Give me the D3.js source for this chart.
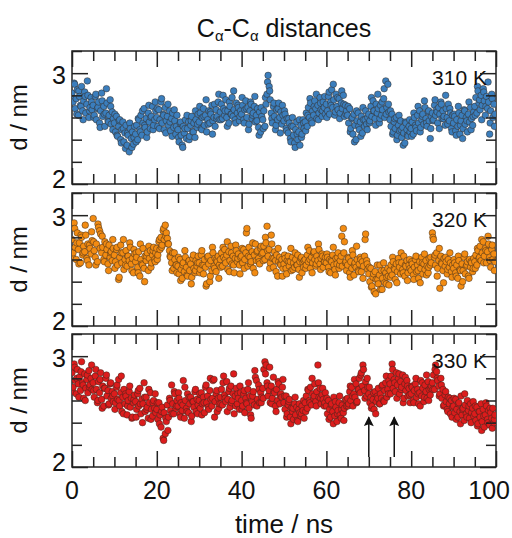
<!DOCTYPE html>
<html>
<head>
<meta charset="utf-8">
<script src="https://cdn.jsdelivr.net/npm/d3@7"></script>
<style>
  body { margin: 0; background: #fff; }
  svg { display: block; font-family: "Liberation Sans", Arial, sans-serif; }
</style>
</head>
<body>
<div id="chart"></div>
<script>
// first run sampled every 0.25 ns (0 .. 99.75),
// second run sampled every 0.5 ns starting at 0.125
const STEP_A = 0.25;
const STEP_B = 0.5, OFFSET_B = 0.125;

const d310 = [
  2.82, 2.74, 2.91, 2.68, 2.77, 2.85, 2.62, 2.79, 2.71, 2.88, 2.66, 2.75, 2.83, 2.64, 2.72, 2.80, 2.60, 2.69, 2.78, 2.67,
  2.71, 2.62, 2.79, 2.58, 2.68, 2.74, 2.55, 2.66, 2.82, 2.61, 2.70, 2.52, 2.64, 2.73, 2.57, 2.62, 2.76, 2.54, 2.65, 2.59,
  2.55, 2.47, 2.61, 2.43, 2.52, 2.58, 2.40, 2.49, 2.56, 2.38, 2.46, 2.53, 2.35, 2.44, 2.29, 2.50, 2.41, 2.47, 2.36, 2.52,
  2.45, 2.53, 2.40, 2.58, 2.49, 2.62, 2.44, 2.55, 2.68, 2.51, 2.59, 2.47, 2.64, 2.56, 2.50, 2.61, 2.70, 2.53, 2.58, 2.66,
  2.60, 2.52, 2.67, 2.58, 2.74, 2.55, 2.63, 2.49, 2.69, 2.57, 2.61, 2.53, 2.66, 2.48, 2.59, 2.64, 2.51, 2.57, 2.45, 2.62,
  2.49, 2.38, 2.55, 2.44, 2.35, 2.52, 2.46, 2.58, 2.41, 2.50, 2.56, 2.43, 2.53, 2.61, 2.47, 2.55, 2.42, 2.58, 2.51, 2.63,
  2.56, 2.64, 2.50, 2.60, 2.68, 2.53, 2.62, 2.47, 2.58, 2.66, 2.55, 2.63, 2.71, 2.57, 2.60, 2.52, 2.67, 2.61, 2.74, 2.58,
  2.65, 2.72, 2.59, 2.68, 2.62, 2.76, 2.60, 2.66, 2.55, 2.70, 2.63, 2.78, 2.61, 2.67, 2.58, 2.73, 2.64, 2.69, 2.57, 2.66,
  2.63, 2.71, 2.58, 2.67, 2.75, 2.60, 2.69, 2.54, 2.66, 2.72, 2.59, 2.64, 2.70, 2.56, 2.62, 2.68, 2.51, 2.65, 2.47, 2.61,
  2.58, 2.66, 2.52, 2.72, 2.81, 2.98, 2.88, 2.76, 2.64, 2.55, 2.70, 2.61, 2.49, 2.67, 2.58, 2.73, 2.60, 2.65, 2.54, 2.62,
  2.57, 2.63, 2.50, 2.59, 2.46, 2.55, 2.41, 2.52, 2.60, 2.44, 2.37, 2.49, 2.56, 2.40, 2.47, 2.35, 2.53, 2.45, 2.58, 2.50,
  2.56, 2.64, 2.52, 2.69, 2.60, 2.73, 2.57, 2.66, 2.62, 2.75, 2.68, 2.59, 2.71, 2.64, 2.78, 2.67, 2.61, 2.74, 2.69, 2.63,
  2.72, 2.66, 2.79, 2.63, 2.74, 2.85, 2.69, 2.76, 2.62, 2.81, 2.70, 2.67, 2.77, 2.64, 2.73, 2.68, 2.80, 2.61, 2.71, 2.66,
  2.62, 2.55, 2.68, 2.50, 2.59, 2.45, 2.63, 2.53, 2.40, 2.57, 2.64, 2.49, 2.56, 2.61, 2.46, 2.58, 2.52, 2.66, 2.54, 2.60,
  2.63, 2.57, 2.70, 2.61, 2.75, 2.66, 2.59, 2.72, 2.64, 2.68, 2.55, 2.71, 2.62, 2.67, 2.77, 2.60, 2.93, 2.69, 2.90, 2.65,
  2.58, 2.52, 2.63, 2.47, 2.56, 2.50, 2.60, 2.44, 2.53, 2.48, 2.57, 2.42, 2.51, 2.46, 2.37, 2.55, 2.49, 2.43, 2.52, 2.47,
  2.50, 2.56, 2.45, 2.60, 2.53, 2.48, 2.62, 2.55, 2.66, 2.51, 2.58, 2.63, 2.54, 2.69, 2.59, 2.52, 2.65, 2.57, 2.41, 2.61,
  2.64, 2.58, 2.71, 2.62, 2.67, 2.55, 2.69, 2.63, 2.74, 2.59, 2.66, 2.61, 2.53, 2.68, 2.60, 2.72, 2.57, 2.64, 2.50, 2.62,
  2.55, 2.61, 2.48, 2.58, 2.52, 2.64, 2.45, 2.57, 2.62, 2.50, 2.67, 2.54, 2.60, 2.47, 2.63, 2.56, 2.69, 2.59, 2.53, 2.65,
  2.70, 2.78, 2.64, 2.84, 2.73, 2.67, 2.80, 2.71, 2.86, 2.75, 2.62, 2.79, 2.68, 2.74, 2.45, 2.66, 2.81, 2.60, 2.72, 2.63
];
const d310b = [
  2.76, 2.90, 2.63, 2.84, 2.70, 2.58, 2.79, 2.93, 2.66, 2.74,
  2.60, 2.81, 2.69, 2.51, 2.75, 2.63, 2.86, 2.56, 2.70, 2.49,
  2.63, 2.44, 2.57, 2.37, 2.50, 2.32, 2.46, 2.55, 2.33, 2.42,
  2.38, 2.59, 2.47, 2.66, 2.53, 2.42, 2.71, 2.60, 2.49, 2.74,
  2.68, 2.50, 2.77, 2.62, 2.46, 2.72, 2.56, 2.43, 2.67, 2.52,
  2.42, 2.56, 2.33, 2.50, 2.62, 2.40, 2.57, 2.47, 2.66, 2.54,
  2.70, 2.49, 2.61, 2.76, 2.54, 2.65, 2.45, 2.72, 2.59, 2.81,
  2.58, 2.80, 2.66, 2.52, 2.74, 2.63, 2.84, 2.55, 2.71, 2.61,
  2.78, 2.55, 2.68, 2.49, 2.74, 2.62, 2.79, 2.57, 2.44, 2.69,
  2.50, 2.78, 2.92, 2.84, 2.59, 2.73, 2.53, 2.68, 2.46, 2.71,
  2.66, 2.48, 2.59, 2.38, 2.52, 2.33, 2.45, 2.58, 2.42, 2.55,
  2.48, 2.62, 2.77, 2.55, 2.70, 2.81, 2.58, 2.73, 2.66, 2.79,
  2.60, 2.83, 2.71, 2.90, 2.65, 2.78, 2.59, 2.84, 2.72, 2.63,
  2.70, 2.47, 2.60, 2.38, 2.66, 2.52, 2.43, 2.69, 2.58, 2.49,
  2.55, 2.78, 2.66, 2.53, 2.81, 2.59, 2.74, 2.86, 2.63, 2.72,
  2.66, 2.45, 2.59, 2.40, 2.62, 2.49, 2.35, 2.56, 2.44, 2.58,
  2.43, 2.64, 2.51, 2.70, 2.47, 2.61, 2.75, 2.55, 2.66, 2.50,
  2.57, 2.76, 2.65, 2.50, 2.72, 2.59, 2.80, 2.54, 2.68, 2.47,
  2.63, 2.44, 2.70, 2.53, 2.41, 2.66, 2.57, 2.74, 2.49, 2.61,
  2.62, 2.88, 2.76, 2.58, 2.83, 2.70, 2.92, 2.55, 2.77, 2.52
];

const d320 = [
  2.78, 2.66, 2.93, 2.71, 2.60, 2.84, 2.69, 2.75, 2.57, 2.80, 2.64, 2.72, 2.67, 2.82, 2.61, 2.74, 2.55, 2.70, 2.65, 2.77,
  2.97, 2.68, 2.62, 2.74, 2.58, 2.89, 2.86, 2.83, 2.66, 2.71, 2.60, 2.76, 2.64, 2.69, 2.56, 2.73, 2.62, 2.67, 2.59, 2.70,
  2.64, 2.58, 2.69, 2.55, 2.42, 2.62, 2.73, 2.57, 2.66, 2.51, 2.60, 2.68, 2.54, 2.63, 2.59, 2.71, 2.56, 2.61, 2.48, 2.65,
  2.58, 2.62, 2.53, 2.67, 2.45, 2.60, 2.56, 2.70, 2.52, 2.63, 2.59, 2.66, 2.50, 2.61, 2.68, 2.57, 2.64, 2.71, 2.60, 2.66,
  2.70, 2.64, 2.76, 2.69, 2.80, 2.73, 2.86, 2.78, 2.91, 2.84, 2.79, 2.74, 2.68, 2.62, 2.57, 2.66, 2.52, 2.60, 2.55, 2.48,
  2.54, 2.47, 2.60, 2.51, 2.43, 2.57, 2.49, 2.62, 2.53, 2.45, 2.58, 2.50, 2.56, 2.44, 2.61, 2.52, 2.48, 2.59, 2.54, 2.63,
  2.57, 2.51, 2.64, 2.55, 2.47, 2.60, 2.53, 2.38, 2.62, 2.56, 2.40, 2.59, 2.50, 2.66, 2.54, 2.61, 2.49, 2.58, 2.63, 2.55,
  2.60, 2.66, 2.54, 2.62, 2.69, 2.57, 2.64, 2.51, 2.67, 2.59, 2.72, 2.56, 2.63, 2.48, 2.61, 2.68, 2.58, 2.65, 2.55, 2.62,
  2.63, 2.57, 2.69, 2.60, 2.66, 2.88, 2.54, 2.71, 2.62, 2.58, 2.67, 2.52, 2.64, 2.74, 2.59, 2.68, 2.61, 2.56, 2.70, 2.65,
  2.66, 2.72, 2.60, 2.75, 2.90, 2.63, 2.69, 2.57, 2.82, 2.61, 2.53, 2.67, 2.59, 2.64, 2.45, 2.58, 2.62, 2.55, 2.60, 2.52,
  2.56, 2.61, 2.52, 2.59, 2.63, 2.54, 2.58, 2.50, 2.62, 2.57, 2.53, 2.60, 2.55, 2.64, 2.51, 2.58, 2.61, 2.48, 2.57, 2.59,
  2.60, 2.55, 2.64, 2.58, 2.68, 2.52, 2.62, 2.57, 2.66, 2.60, 2.54, 2.63, 2.59, 2.69, 2.56, 2.61, 2.65, 2.53, 2.58, 2.62,
  2.57, 2.62, 2.53, 2.60, 2.48, 2.58, 2.64, 2.55, 2.51, 2.61, 2.56, 2.66, 2.52, 2.59, 2.63, 2.54, 2.88, 2.76, 2.57, 2.50,
  2.55, 2.61, 2.48, 2.58, 2.52, 2.64, 2.46, 2.57, 2.53, 2.60, 2.50, 2.56, 2.62, 2.49, 2.58, 2.54, 2.63, 2.83, 2.59, 2.51,
  2.47, 2.40, 2.52, 2.36, 2.44, 2.31, 2.49, 2.42, 2.55, 2.38, 2.46, 2.33, 2.50, 2.43, 2.57, 2.39, 2.48, 2.44, 2.52, 2.37,
  2.50, 2.55, 2.46, 2.58, 2.52, 2.42, 2.56, 2.49, 2.61, 2.53, 2.47, 2.57, 2.51, 2.63, 2.45, 2.54, 2.59, 2.48, 2.55, 2.52,
  2.50, 2.56, 2.46, 2.53, 2.60, 2.49, 2.55, 2.43, 2.58, 2.52, 2.62, 2.47, 2.56, 2.51, 2.59, 2.54, 2.48, 2.61, 2.55, 2.57,
  2.84, 2.78, 2.62, 2.55, 2.66, 2.52, 2.59, 2.34, 2.63, 2.56, 2.50, 2.61, 2.54, 2.58, 2.47, 2.60, 2.53, 2.57, 2.49, 2.55,
  2.52, 2.57, 2.48, 2.55, 2.43, 2.59, 2.51, 2.36, 2.56, 2.50, 2.62, 2.47, 2.54, 2.58, 2.45, 2.60, 2.53, 2.57, 2.49, 2.61,
  2.58, 2.64, 2.55, 2.68, 2.61, 2.72, 2.59, 2.66, 2.76, 2.63, 2.70, 2.57, 2.67, 2.74, 2.62, 2.53, 2.69, 2.60, 2.65, 2.58
];
const d320b = [
  2.62, 2.88, 2.75, 2.56, 2.82, 2.66, 2.91, 2.59, 2.73, 2.85,
  2.76, 2.55, 2.92, 2.70, 2.81, 2.58, 2.74, 2.50, 2.66, 2.78,
  2.52, 2.71, 2.44, 2.66, 2.78, 2.55, 2.63, 2.75, 2.50, 2.69,
  2.66, 2.48, 2.74, 2.55, 2.40, 2.63, 2.72, 2.53, 2.68, 2.58,
  2.60, 2.78, 2.71, 2.88, 2.81, 2.74, 2.63, 2.50, 2.66, 2.55,
  2.62, 2.41, 2.55, 2.68, 2.46, 2.59, 2.38, 2.64, 2.50, 2.57,
  2.48, 2.68, 2.55, 2.36, 2.63, 2.45, 2.71, 2.52, 2.60, 2.43,
  2.53, 2.71, 2.60, 2.76, 2.49, 2.66, 2.55, 2.73, 2.61, 2.47,
  2.70, 2.52, 2.84, 2.63, 2.56, 2.75, 2.48, 2.67, 2.58, 2.72,
  2.59, 2.80, 2.68, 2.52, 2.74, 2.61, 2.49, 2.70, 2.56, 2.45,
  2.64, 2.47, 2.58, 2.70, 2.51, 2.66, 2.55, 2.44, 2.62, 2.53,
  2.52, 2.71, 2.60, 2.48, 2.67, 2.56, 2.74, 2.51, 2.63, 2.58,
  2.65, 2.49, 2.59, 2.71, 2.46, 2.62, 2.55, 2.81, 2.66, 2.58,
  2.62, 2.44, 2.68, 2.55, 2.72, 2.49, 2.60, 2.43, 2.78, 2.56,
  2.53, 2.35, 2.47, 2.29, 2.42, 2.55, 2.33, 2.50, 2.38, 2.45,
  2.44, 2.62, 2.51, 2.39, 2.57, 2.66, 2.48, 2.55, 2.41, 2.60,
  2.58, 2.42, 2.63, 2.50, 2.39, 2.57, 2.65, 2.46, 2.53, 2.62,
  2.80, 2.64, 2.45, 2.70, 2.57, 2.39, 2.62, 2.51, 2.66, 2.44,
  2.60, 2.45, 2.63, 2.50, 2.40, 2.65, 2.55, 2.43, 2.58, 2.52,
  2.52, 2.70, 2.62, 2.78, 2.57, 2.68, 2.81, 2.59, 2.73, 2.50
];

const d330 = [
  2.85, 2.72, 2.93, 2.78, 2.66, 2.88, 2.75, 2.81, 2.69, 2.95, 2.76, 2.62, 2.84, 2.71, 2.79, 2.67, 2.87, 2.74, 2.80, 2.70,
  2.76, 2.63, 2.82, 2.70, 2.58, 2.77, 2.67, 2.85, 2.61, 2.73, 2.55, 2.71, 2.80, 2.64, 2.69, 2.57, 2.75, 2.62, 2.68, 2.59,
  2.66, 2.58, 2.72, 2.61, 2.79, 2.55, 2.67, 2.50, 2.63, 2.70, 2.57, 2.64, 2.47, 2.60, 2.68, 2.54, 2.62, 2.45, 2.58, 2.65,
  2.59, 2.52, 2.66, 2.55, 2.71, 2.48, 2.61, 2.57, 2.76, 2.50, 2.63, 2.54, 2.44, 2.58, 2.67, 2.52, 2.46, 2.60, 2.53, 2.49,
  2.52, 2.43, 2.58, 2.47, 2.36, 2.54, 2.26, 2.49, 2.30, 2.41, 2.56, 2.45, 2.62, 2.51, 2.74, 2.57, 2.48, 2.66, 2.53, 2.60,
  2.55, 2.62, 2.48, 2.58, 2.51, 2.78, 2.44, 2.60, 2.53, 2.66, 2.49, 2.57, 2.63, 2.46, 2.59, 2.54, 2.68, 2.50, 2.61, 2.56,
  2.60, 2.53, 2.67, 2.57, 2.63, 2.49, 2.72, 2.58, 2.64, 2.52, 2.69, 2.61, 2.55, 2.78, 2.79, 2.59, 2.66, 2.50, 2.62, 2.57,
  2.63, 2.70, 2.56, 2.82, 2.65, 2.59, 2.77, 2.61, 2.68, 2.54, 2.73, 2.60, 2.66, 2.48, 2.64, 2.71, 2.57, 2.62, 2.52, 2.67,
  2.60, 2.55, 2.66, 2.49, 2.62, 2.57, 2.70, 2.53, 2.64, 2.44, 2.59, 2.68, 2.56, 2.81, 2.78, 2.61, 2.74, 2.58, 2.67, 2.63,
  2.71, 2.88, 2.95, 2.92, 2.76, 2.64, 2.69, 2.58, 2.73, 2.62, 2.81, 2.67, 2.55, 2.70, 2.60, 2.75, 2.57, 2.66, 2.63, 2.79,
  2.58, 2.52, 2.64, 2.48, 2.56, 2.61, 2.45, 2.53, 2.50, 2.43, 2.57, 2.47, 2.54, 2.41, 2.52, 2.49, 2.46, 2.55, 2.51, 2.44,
  2.58, 2.64, 2.53, 2.69, 2.60, 2.72, 2.56, 2.66, 2.62, 2.75, 2.59, 2.68, 2.92, 2.63, 2.71, 2.57, 2.65, 2.61, 2.55, 2.67,
  2.55, 2.48, 2.60, 2.52, 2.45, 2.57, 2.50, 2.63, 2.46, 2.54, 2.41, 2.51, 2.58, 2.47, 2.44, 2.56, 2.49, 2.53, 2.60, 2.55,
  2.62, 2.57, 2.68, 2.60, 2.72, 2.55, 2.66, 2.63, 2.75, 2.59, 2.70, 2.80, 2.67, 2.85, 2.73, 2.88, 2.69, 2.77, 2.64, 2.72,
  2.66, 2.58, 2.63, 2.55, 2.61, 2.52, 2.68, 2.59, 2.64, 2.71, 2.57, 2.66, 2.62, 2.74, 2.60, 2.69, 2.76, 2.63, 2.70, 2.78,
  2.75, 2.82, 2.93, 2.71, 2.79, 2.68, 2.85, 2.74, 2.80, 2.66, 2.77, 2.72, 2.83, 2.62, 2.75, 2.69, 2.78, 2.64, 2.71, 2.58,
  2.66, 2.72, 2.60, 2.69, 2.75, 2.63, 2.70, 2.57, 2.67, 2.78, 2.64, 2.71, 2.59, 2.74, 2.68, 2.62, 2.77, 2.70, 2.65, 2.73,
  2.76, 2.83, 2.70, 2.92, 2.86, 2.78, 2.73, 2.66, 2.80, 2.62, 2.70, 2.56, 2.65, 2.59, 2.52, 2.63, 2.57, 2.48, 2.60, 2.54,
  2.55, 2.49, 2.61, 2.52, 2.45, 2.58, 2.50, 2.64, 2.47, 2.53, 2.42, 2.56, 2.48, 2.60, 2.51, 2.44, 2.57, 2.49, 2.53, 2.46,
  2.48, 2.42, 2.54, 2.39, 2.50, 2.45, 2.57, 2.41, 2.52, 2.36, 2.47, 2.55, 2.43, 2.51, 2.38, 2.49, 2.44, 2.53, 2.40, 2.47
];
const d330b = [
  2.68, 2.90, 2.80, 2.63, 2.86, 2.74, 2.60, 2.83, 2.72, 2.92,
  2.69, 2.88, 2.60, 2.79, 2.53, 2.71, 2.83, 2.56, 2.76, 2.64,
  2.52, 2.74, 2.60, 2.82, 2.48, 2.66, 2.55, 2.73, 2.44, 2.61,
  2.45, 2.69, 2.57, 2.40, 2.63, 2.52, 2.70, 2.43, 2.58, 2.66,
  2.58, 2.39, 2.50, 2.24, 2.44, 2.33, 2.60, 2.48, 2.68, 2.55,
  2.67, 2.45, 2.56, 2.72, 2.50, 2.63, 2.41, 2.59, 2.70, 2.48,
  2.66, 2.47, 2.58, 2.74, 2.54, 2.80, 2.62, 2.45, 2.69, 2.53,
  2.57, 2.76, 2.62, 2.50, 2.71, 2.58, 2.84, 2.55, 2.66, 2.73,
  2.52, 2.69, 2.58, 2.76, 2.47, 2.64, 2.87, 2.55, 2.70, 2.58,
  2.62, 2.84, 2.73, 2.90, 2.57, 2.68, 2.50, 2.77, 2.64, 2.72,
  2.64, 2.45, 2.59, 2.39, 2.53, 2.63, 2.42, 2.57, 2.48, 2.60,
  2.50, 2.70, 2.58, 2.80, 2.64, 2.55, 2.76, 2.62, 2.71, 2.58,
  2.62, 2.43, 2.56, 2.39, 2.59, 2.48, 2.64, 2.52, 2.42, 2.61,
  2.55, 2.73, 2.64, 2.79, 2.58, 2.70, 2.83, 2.92, 2.62, 2.80,
  2.72, 2.53, 2.67, 2.48, 2.62, 2.57, 2.73, 2.59, 2.82, 2.66,
  2.66, 2.88, 2.76, 2.62, 2.84, 2.70, 2.58, 2.81, 2.73, 2.65,
  2.73, 2.58, 2.80, 2.66, 2.55, 2.76, 2.63, 2.83, 2.60, 2.71,
  2.70, 2.88, 2.80, 2.64, 2.74, 2.55, 2.68, 2.50, 2.62, 2.45,
  2.62, 2.43, 2.57, 2.39, 2.52, 2.66, 2.45, 2.55, 2.40, 2.59,
  2.55, 2.37, 2.50, 2.33, 2.46, 2.58, 2.40, 2.53, 2.35, 2.43
];

const panelLabels = ["310 K", "320 K", "330 K"];
const panelColors = ["#3b7ebd", "#f28b12", "#dc1c1c"];
const panelRunsA = [d310, d320, d330];
const panelRunsB = [d310b, d320b, d330b];

// arrows in the 330 K panel
const arrowTimes = [70, 76];
const arrowFrom = 2.09;
const arrowTo = 2.45;

const xTickLabels = [0, 20, 40, 60, 80, 100];
const yTickLabels = [2, 3];

const WIDTH = 512, HEIGHT = 538;
const LEFT = 72, RIGHT = 496;
const PANEL_TOPS = [51, 193, 334];
const PANEL_H = 133;

const svg = d3.select("#chart").append("svg")
    .attr("width", WIDTH)
    .attr("height", HEIGHT);

svg.append("defs").append("marker")
    .attr("id", "arrowhead")
    .attr("viewBox", "0 0 10 10")
    .attr("refX", 9).attr("refY", 5)
    .attr("markerWidth", 11).attr("markerHeight", 10)
    .attr("markerUnits", "userSpaceOnUse")
    .attr("orient", "auto")
    .append("path")
    .attr("d", "M0,0 L10,5 L0,10 L2,5 z")
    .attr("fill", "#111");

const x = d3.scaleLinear().domain([0, 100]).range([LEFT, RIGHT]);

// title with subscript alphas
const title = svg.append("text")
    .attr("x", 284).attr("y", 37)
    .attr("text-anchor", "middle")
    .attr("font-size", 25)
    .attr("fill", "#111");
title.append("tspan").text("C");
title.append("tspan").attr("font-size", 15).attr("dy", 4).text("α");
title.append("tspan").attr("dy", -4).text("-C");
title.append("tspan").attr("font-size", 15).attr("dy", 4).text("α");
title.append("tspan").attr("dy", -4).text(" distances");

const minorX = d3.range(0, 101, 5);
const minorY = d3.range(2, 3.21, 0.2);

panelRunsA.forEach((runA, i) => {
    const top = PANEL_TOPS[i];
    const bottom = top + PANEL_H;
    const y = d3.scaleLinear().domain([2, 3.2]).range([bottom, top]);
    const g = svg.append("g").attr("class", "panel");

    const points = runA.map((d, k) => ({t: k * STEP_A, d}))
        .concat(panelRunsB[i].map((d, k) => ({t: OFFSET_B + k * STEP_B, d})))
        .sort((a, b) => a.t - b.t);

    g.append("rect")
        .attr("x", LEFT).attr("y", top)
        .attr("width", RIGHT - LEFT).attr("height", PANEL_H)
        .attr("fill", "none")
        .attr("stroke", "#222")
        .attr("stroke-width", 1.5);

    const clipId = "clip" + i;
    svg.append("clipPath").attr("id", clipId)
        .append("rect")
        .attr("x", LEFT).attr("y", top)
        .attr("width", RIGHT - LEFT).attr("height", PANEL_H);

    g.append("g")
        .attr("clip-path", "url(#" + clipId + ")")
        .selectAll("circle")
        .data(points)
        .join("circle")
        .attr("cx", p => x(p.t))
        .attr("cy", p => y(p.d))
        .attr("r", 3.3)
        .attr("fill", panelColors[i])
        .attr("stroke", "#33261c")
        .attr("stroke-opacity", 0.8)
        .attr("stroke-width", 0.6);

    g.append("text")
        .attr("x", 487).attr("y", top + 34)
        .attr("text-anchor", "end")
        .attr("font-size", 21)
        .attr("fill", "#111")
        .text(panelLabels[i]);

    // ticks on all four sides, pointing inward
    const isMajorX = v => v % 20 === 0;
    const isMajorY = v => Math.abs(v - Math.round(v)) < 1e-6;
    const axisTop = d3.axisBottom(x).tickValues(minorX).tickSizeInner(0).tickSizeOuter(0).tickFormat("");
    const axisBot = d3.axisTop(x).tickValues(minorX).tickSizeInner(0).tickSizeOuter(0).tickFormat("");
    const axisL = d3.axisRight(y).tickValues(minorY).tickSizeInner(0).tickSizeOuter(0).tickFormat("");
    const axisR = d3.axisLeft(y).tickValues(minorY).tickSizeInner(0).tickSizeOuter(0).tickFormat("");

    const gt = g.append("g").attr("transform", `translate(0,${top})`).call(axisTop);
    gt.selectAll(".tick line").attr("y2", v => isMajorX(v) ? 16 : 10);
    const gb = g.append("g").attr("transform", `translate(0,${bottom})`).call(axisBot);
    gb.selectAll(".tick line").attr("y2", v => isMajorX(v) ? -16 : -10);
    const gl = g.append("g").attr("transform", `translate(${LEFT},0)`).call(axisL);
    gl.selectAll(".tick line").attr("x2", v => isMajorY(v) ? 16 : 10);
    const gr = g.append("g").attr("transform", `translate(${RIGHT},0)`).call(axisR);
    gr.selectAll(".tick line").attr("x2", v => isMajorY(v) ? -16 : -10);
    g.selectAll(".domain").remove();
    g.selectAll(".tick line").attr("stroke", "#222").attr("stroke-width", 1.5);

    g.selectAll("text.ylab")
        .data(yTickLabels)
        .join("text")
        .attr("class", "ylab")
        .attr("x", 66)
        .attr("y", v => y(v) + (v === 2 ? -5 : 2))
        .attr("dy", "0.35em")
        .attr("text-anchor", "end")
        .attr("font-size", 25)
        .attr("fill", "#111")
        .text(d => d);

    svg.append("text")
        .attr("transform", `translate(27,${top + PANEL_H / 2}) rotate(-90)`)
        .attr("text-anchor", "middle")
        .attr("font-size", 24)
        .attr("fill", "#111")
        .text("d / nm");

    if (i === 2) {
        g.selectAll("line.arrow")
            .data(arrowTimes)
            .join("line")
            .attr("class", "arrow")
            .attr("x1", t => x(t)).attr("x2", t => x(t))
            .attr("y1", y(arrowFrom)).attr("y2", y(arrowTo))
            .attr("stroke", "#111")
            .attr("stroke-width", 1.5)
            .attr("marker-end", "url(#arrowhead)");

        svg.selectAll("text.xlab")
            .data(xTickLabels)
            .join("text")
            .attr("class", "xlab")
            .attr("x", v => v === 100 ? 510 : x(v))
            .attr("y", bottom + 32)
            .attr("text-anchor", v => v === 100 ? "end" : "middle")
            .attr("font-size", 25)
            .attr("fill", "#111")
            .text(d => d);
    }
});

svg.append("text")
    .attr("x", 284).attr("y", 533)
    .attr("text-anchor", "middle")
    .attr("font-size", 26)
    .attr("fill", "#111")
    .text("time / ns");
</script>
</body>
</html>
